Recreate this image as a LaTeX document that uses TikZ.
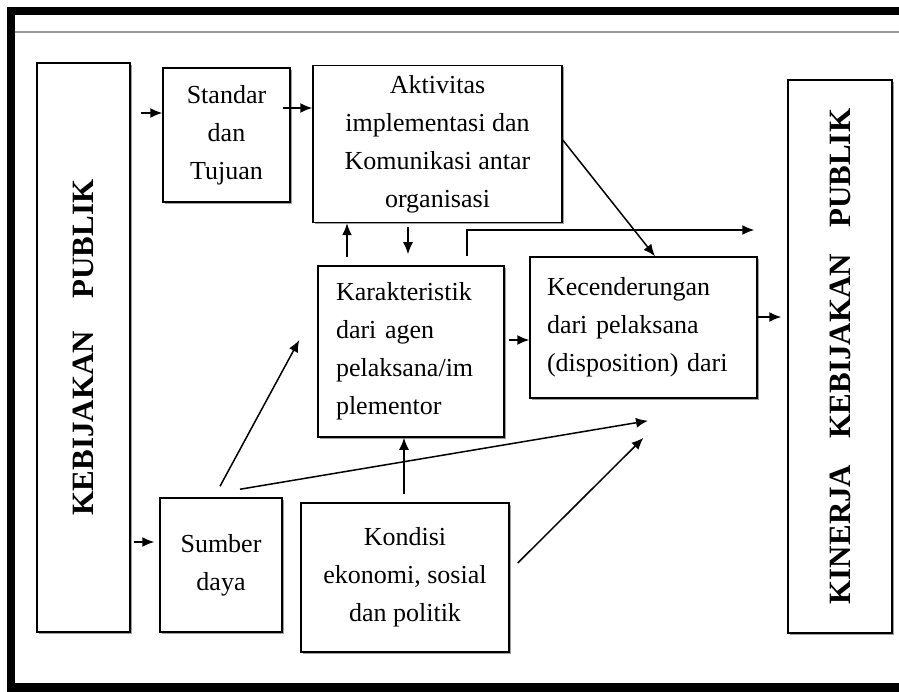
\documentclass[tikz,border=0pt]{standalone}
\usepackage{fontspec}
\setmainfont{Liberation Serif}
\usetikzlibrary{arrows.meta,shadows}

\tikzset{
  box/.style={draw, line width=1.5pt, fill=white, inner sep=0pt,
    drop shadow={shadow xshift=1.6pt, shadow yshift=-1.8pt, fill=gray!75, opacity=1},
    font=\fontsize{26}{38}\selectfont, align=center},
  arr/.style={line width=1.5pt, -{Latex[length=12pt,width=10pt]}},
}

\begin{document}
\begin{tikzpicture}[x=1pt,y=-1pt]
\useasboundingbox (0,0) rectangle (899,692);

% frame
\fill (7,7) rectangle (899,15);
\fill (7,7) rectangle (15,692);
\fill (7,683) rectangle (899,692);
\draw[gray!80, line width=2pt] (15,32) -- (899,32);

% boxes
\node[box, minimum width=93pt, minimum height=569pt] (kp) at (83.5,347.5)
  {\rotatebox{90}{\bfseries\fontsize{31}{36}\selectfont KEBIJAKAN\hspace{1.05em}PUBLIK}};
\node[box, minimum width=127pt, minimum height=134pt] (std) at (226.5,135)
  {Standar\\dan\\Tujuan};
\node[box, minimum width=249pt, minimum height=157pt] (akt) at (437.5,144)
  {Aktivitas\\implementasi dan\\Komunikasi antar\\organisasi};
\node[box, minimum width=186pt, minimum height=171pt, text width=150pt, align=left] (kar) at (411,351.5)
  {Karakteristik\\dari agen\\pelaksana/im\\plementor};
\node[box, minimum width=227pt, minimum height=141pt, text width=193pt, align=left] (kec) at (643.5,327.5)
  {Kecenderungan\\dari pelaksana\\(disposition) dari};
\node[box, minimum width=104pt, minimum height=553pt] (kin) at (840,356.5)
  {\rotatebox{90}{\bfseries\fontsize{31}{36}\selectfont KINERJA\hspace{0.85em}KEBIJAKAN\hspace{0.85em}PUBLIK}};
\node[box, minimum width=122pt, minimum height=134pt] (smb) at (221,565)
  {Sumber\\daya};
\node[box, minimum width=208pt, minimum height=149pt] (kon) at (405,577.5)
  {Kondisi\\ekonomi, sosial\\dan politik};

% arrows
\draw[arr, shorten <=10pt] (kp.east |- 0,113) -- (std.west |- 0,113);
\draw[arr, shorten <=-8pt] (std.east |- 0,108) -- (akt.west |- 0,108);
\draw[arr, shorten <=3pt, shorten >=5pt] (kp.east |- 0,542) -- (smb.west |- 0,542);
\draw[arr, shorten <=8pt] (kar.north -| 347,0) -- (akt.south -| 347,0);
\draw[arr, shorten <=4pt, shorten >=11pt] (akt.south -| 408,0) -- (kar.north -| 408,0);
\draw[arr, shorten <=9pt, shorten >=33pt] (kar.north -| 467,0) |- (kin.west |- 0,230);
\draw[arr] (akt.east |- 0,140) -- (kec.north -| 655,0);
\draw[arr, shorten <=4pt] (kar.east |- 0,340) -- (kec.west |- 0,340);
\draw[arr, shorten >=6pt] (kec.east |- 0,317) -- (kin.west |- 0,317);
\draw[arr] ([xshift=-1pt,yshift=11pt]smb.north) -- ([xshift=-18pt,yshift=11.5pt]kar.west);
\draw[arr] ([xshift=19pt,yshift=8pt]smb.north) -- ([xshift=4.5pt,yshift=-22pt]kec.south);
\draw[arr, shorten <=8pt] (kon.north -| 404,0) -- (kar.south -| 404,0);
\draw[arr] ([xshift=8pt,yshift=14.5pt]kon.east) -- ([yshift=-39pt]kec.south);
\end{tikzpicture}
\end{document}
